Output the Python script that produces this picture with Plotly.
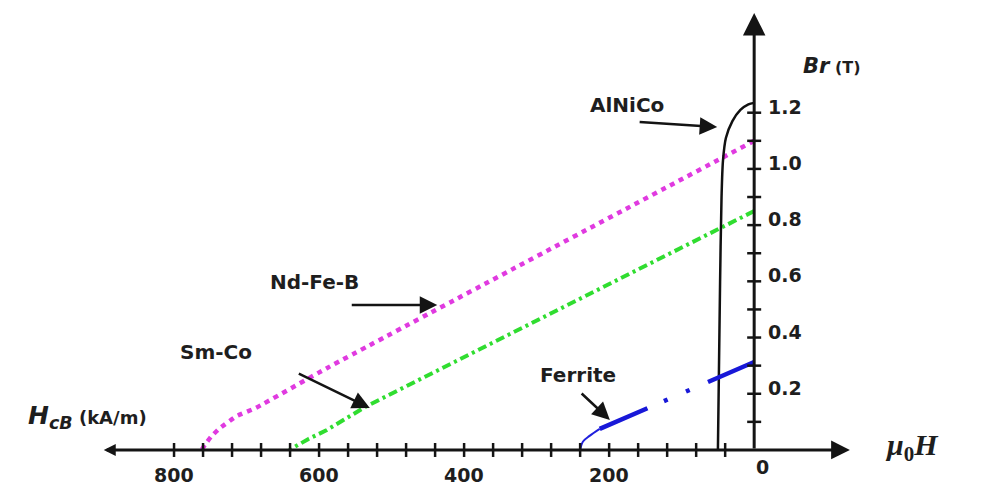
import plotly.graph_objects as go

# ---------------- data ----------------
# H in kA/m (plotted leftwards), B in tesla
ndfeb_h = [0, 590, 687, 714, 738, 749, 757, 762]
ndfeb_b = [1.10, 0.29, 0.15, 0.12, 0.075, 0.047, 0.02, 0.0]

smco_h = [0, 535, 590, 614, 641]
smco_b = [0.85, 0.155, 0.07, 0.04, 0.0]

alnico_h = [50, 47, 45, 43, 39, 30, 19, 8, 0]
alnico_b = [0.0, 0.6, 0.9, 1.03, 1.11, 1.17, 1.21, 1.23, 1.235]

ferrite_knee_h = [240, 236, 227, 213]
ferrite_knee_b = [0.0, 0.03, 0.05, 0.075]
ferrite_h = [213, 0]
ferrite_b = [0.075, 0.313]

x_minor_ticks = [40, 80, 120, 160, 200, 240, 280, 320, 360, 400,
                 440, 480, 520, 560, 600, 640, 680, 720, 760, 800]
x_tick_labels = [800, 600, 400, 200]
y_minor_ticks = [0.1, 0.2, 0.3, 0.4, 0.5, 0.6, 0.7, 0.8, 0.9, 1.0, 1.1, 1.2]
y_tick_labels = [0.2, 0.4, 0.6, 0.8, 1.0, 1.2]

# ---------------- style ----------------
AX = "#141414"
TXT = "#1e1e1e"
FONT = "DejaVu Sans"

fig = go.Figure()

fig.add_trace(go.Scatter(x=ndfeb_h, y=ndfeb_b, mode="lines",
                         line=dict(color="#e03ae0", width=4.5, dash="5px,5px",
                                   shape="spline", smoothing=0.4)))
fig.add_trace(go.Scatter(x=smco_h, y=smco_b, mode="lines",
                         line=dict(color="#30dd30", width=4, dash="9px,4px,3px,4px")))
fig.add_trace(go.Scatter(x=alnico_h, y=alnico_b, mode="lines",
                         line=dict(color="#111111", width=2.5, shape="spline", smoothing=0.8)))
fig.add_trace(go.Scatter(x=ferrite_knee_h, y=ferrite_knee_b, mode="lines",
                         line=dict(color="#2020dd", width=2, shape="spline")))
fig.add_trace(go.Scatter(x=ferrite_h, y=ferrite_b, mode="lines",
                         line=dict(color="#1818d8", width=4.5,
                                   dash="52px,18px,4px,20px,4px,20px")))

# tick marks
fig.add_trace(go.Scatter(x=x_minor_ticks, y=[0] * len(x_minor_ticks), mode="markers",
                         marker=dict(symbol="line-ns", size=10,
                                     line=dict(color=AX, width=2.5))))
fig.add_trace(go.Scatter(x=[0] * len(y_minor_ticks), y=y_minor_ticks, mode="markers",
                         marker=dict(symbol="line-ew", size=10,
                                     line=dict(color=AX, width=2.5))))

# axis lines with arrows
fig.add_annotation(x=-132, y=0, ax=899, ay=0, xref="x", yref="y", axref="x", ayref="y",
                   text="", showarrow=True, arrowhead=2, arrowsize=1.25, arrowwidth=3,
                   arrowside="end+start", startarrowhead=2, startarrowsize=0.8,
                   arrowcolor=AX)
fig.add_annotation(x=0, y=1.555, ax=0, ay=0, xref="x", yref="y", axref="x", ayref="y",
                   text="", showarrow=True, arrowhead=2, arrowsize=1.5, arrowwidth=3,
                   arrowcolor=AX)

# tick labels
for v in x_tick_labels:
    fig.add_annotation(x=v, y=-0.089, xref="x", yref="y", text=f"<b>{v}</b>",
                       showarrow=False, font=dict(family=FONT, size=19, color=TXT))
for v in y_tick_labels:
    fig.add_annotation(x=-16.5, y=v, xref="x", yref="y", text=f"<b>{v:.1f}</b>",
                       showarrow=False, xanchor="left", yshift=6,
                       font=dict(family=FONT, size=19, color=TXT))
fig.add_annotation(x=-11, y=-0.06, xref="x", yref="y", text="<b>0</b>",
                   showarrow=False, font=dict(family=FONT, size=19, color=TXT))

# axis titles
fig.add_annotation(x=-106, y=1.367, xref="x", yref="y",
                   text="<b><i>Br</i></b><span style='font-size:16px'><b> (T)</b></span>",
                   showarrow=False, font=dict(family=FONT, size=21, color=TXT))
fig.add_annotation(x=919, y=0.117, xref="x", yref="y",
                   text="<b><i>H</i></b><sub><b><i>cB</i></b></sub>"
                        "<span style='font-size:18px'><b> (kA/m)</b></span>",
                   showarrow=False, font=dict(family=FONT, size=25, color=TXT))
fig.add_annotation(x=-218, y=0.011, xref="x", yref="y",
                   text="<b><i>μ</i></b><sub><b>0</b></sub><b><i>H</i></b>",
                   showarrow=False, font=dict(family="Liberation Serif", size=30, color=TXT))

# curve labels and pointer arrows
labels = [
    ("AlNiCo", 175, 1.228, (160, 1.167), (51, 1.149)),
    ("Nd-Fe-B", 607, 0.598, (557, 0.516), (437, 0.516)),
    ("Sm-Co", 742, 0.349, (630, 0.274), (530, 0.149)),
    ("Ferrite", 243, 0.267, (240, 0.206), (199, 0.107)),
]
for name, tx, ty, tail, tip in labels:
    fig.add_annotation(x=tx, y=ty, xref="x", yref="y", text=f"<b>{name}</b>",
                       showarrow=False, font=dict(family=FONT, size=20, color=TXT))
    fig.add_annotation(x=tip[0], y=tip[1], ax=tail[0], ay=tail[1],
                       xref="x", yref="y", axref="x", ayref="y", text="",
                       showarrow=True, arrowhead=2, arrowsize=1.4, arrowwidth=2.5,
                       arrowcolor=AX)

fig.update_layout(
    width=1000, height=491,
    margin=dict(l=0, r=0, t=0, b=0),
    paper_bgcolor="white", plot_bgcolor="white",
    showlegend=False, hovermode=False,
    xaxis=dict(range=[1040, -339], visible=False, fixedrange=True),
    yaxis=dict(range=[-0.146, 1.601], visible=False, fixedrange=True),
)

fig.write_html(
    "out.html",
    config={"displayModeBar": False},
    post_script="document.body.style.margin='0px';document.body.style.padding='0px';"
                "document.documentElement.style.overflow='hidden';",
)
